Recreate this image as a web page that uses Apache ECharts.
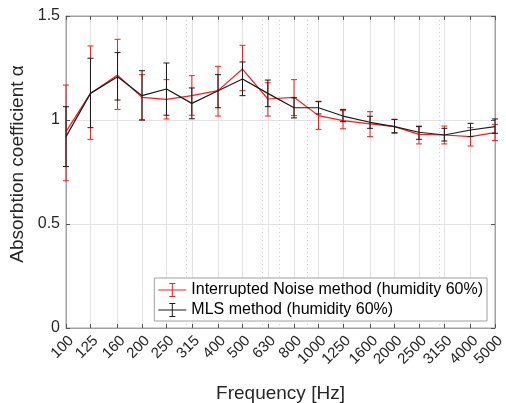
<!DOCTYPE html>
<html><head><meta charset="utf-8">
<script src="https://cdn.jsdelivr.net/npm/echarts@6/dist/echarts.min.js"></script>
<style>html,body{margin:0;padding:0;background:#fff}#c{width:506px;height:403px}</style>
</head><body><div id="c"></div>
<script>
const freqs = [100,125,160,200,250,315,400,500,630,800,1000,1250,1600,2000,2500,3150,4000,5000];
const minorFreqs = [300,600,700,900,3000];
const inValues = [0.944,1.128,1.216,1.109,1.099,1.117,1.141,1.245,1.101,1.109,1.021,0.997,0.981,0.968,0.931,0.928,0.920,0.939];
const inLower  = [0.708,0.907,1.051,1.000,1.005,1.023,1.019,1.141,1.019,1.021,0.955,0.958,0.920,0.936,0.885,0.885,0.875,0.901];
const inUpper  = [1.168,1.356,1.388,1.218,1.194,1.213,1.258,1.359,1.179,1.194,1.090,1.045,1.040,1.003,0.971,0.971,0.963,0.979];
const mlsValues = [0.920,1.128,1.208,1.117,1.149,1.080,1.141,1.197,1.128,1.059,1.059,1.019,0.989,0.968,0.941,0.928,0.952,0.968];
const mlsLower  = [0.776,0.963,1.096,1.000,1.023,1.006,1.059,1.117,1.064,1.010,1.029,0.992,0.960,0.939,0.907,0.899,0.920,0.936];
const mlsUpper  = [1.064,1.297,1.324,1.237,1.274,1.154,1.218,1.279,1.192,1.107,1.088,1.051,1.018,1.003,0.968,0.960,0.984,1.005];
const yTicks = [0,0.5,1,1.5];

const FONT = 'Liberation Sans, Arial, Helvetica, sans-serif';
const TXT = '#262626';
const BOX = '#a0a0a0';
const RED = '#ff1a1a';
const BLK = '#1a1a1a';

function errRender(color){
  return function(params, api){
    const x = api.value(0);
    const p0 = api.coord([x, api.value(1)]);
    const p1 = api.coord([x, api.value(2)]);
    const w = 3;
    const st = {stroke: color, lineWidth: 1};
    return {type:'group', children:[
      {type:'line', shape:{x1:p0[0],y1:p0[1],x2:p1[0],y2:p1[1]}, style:st},
      {type:'line', shape:{x1:p0[0]-w,y1:p0[1],x2:p0[0]+w,y2:p0[1]}, style:st},
      {type:'line', shape:{x1:p1[0]-w,y1:p1[1],x2:p1[0]+w,y2:p1[1]}, style:st}
    ]};
  };
}
const zip = (a,b)=>freqs.map((f,i)=>[f,a[i],b[i]]);
const pts = (a)=>freqs.map((f,i)=>[f,a[i]]);
const icon = 'path://M0,6.5h28v1h-28z M13.5,0h1v14h-1z M11,0h6v1h-6z M11,13h6v1h-6z';
const N1 = 'Interrupted Noise method (humidity 60%)';
const N2 = 'MLS method (humidity 60%)';

const chart = echarts.init(document.getElementById('c'), null, {renderer:'canvas'});
chart.setOption({
  animation:false,
  backgroundColor:'#fff',
  textStyle:{fontFamily:FONT},
  grid:{left:66,right:11,top:16,bottom:75,containLabel:false,outerBoundsMode:'none',show:true,borderColor:BOX,borderWidth:1,backgroundColor:'transparent'},
  legend:{
    right:19, bottom:82, orient:'vertical', itemGap:4, itemWidth:28, itemHeight:14,
    backgroundColor:'#fff', borderColor:BOX, borderWidth:1, padding:[4,4,3,4],
    textStyle:{fontFamily:FONT,fontSize:16,color:'#000'},
    data:[{name:N1,icon:icon,itemStyle:{color:RED}},{name:N2,icon:icon,itemStyle:{color:BLK}}]
  },
  xAxis:[{
    type:'log', logBase:10, min:100, max:5000, position:'bottom',
    name:'Frequency [Hz]', nameLocation:'middle', nameGap:56,
    nameTextStyle:{fontFamily:FONT,fontSize:19,color:TXT},
    axisLine:{show:true,lineStyle:{color:BOX,width:1}},
    axisTick:{show:true,inside:true,length:4,customValues:freqs,lineStyle:{color:'#555'}},
    axisLabel:{customValues:freqs,rotate:45,margin:5,verticalAlign:'top',fontFamily:FONT,fontSize:15,color:TXT,formatter:v=>String(Math.round(v))},
    splitLine:{show:true,lineStyle:{color:'#e3e3e3',width:1}},
    minorTick:{show:false}, minorSplitLine:{show:false}
  },{
    type:'log', logBase:10, min:100, max:5000, position:'bottom', gridIndex:0,
    axisLine:{show:false}, axisLabel:{show:false,customValues:minorFreqs},
    axisTick:{show:false,customValues:minorFreqs},
    splitLine:{show:true,lineStyle:{color:'#d0d0d0',width:1,type:[1,3]}}
  },{
    type:'log', logBase:10, min:100, max:5000, position:'top', gridIndex:0,
    axisLine:{show:true,lineStyle:{color:BOX}}, axisLabel:{show:false,customValues:freqs},
    axisTick:{show:true,inside:true,length:4,customValues:freqs,lineStyle:{color:'#555'}},
    splitLine:{show:false}
  }],
  yAxis:[{
    type:'value', min:0, max:1.5, interval:0.5,
    name:'Absorbtion coefficient α', nameLocation:'middle', nameGap:31, nameRotate:90,
    nameTextStyle:{fontFamily:FONT,fontSize:19,color:TXT,padding:[0,0,0,16]},
    axisLine:{show:true,lineStyle:{color:BOX,width:1}},
    axisTick:{show:true,inside:true,length:4,lineStyle:{color:'#555'}},
    axisLabel:{margin:6,fontFamily:FONT,fontSize:16,color:TXT,formatter:v=>String(yTicks.find(t=>Math.abs(t-v)<1e-9) ?? v)},
    splitLine:{show:true,lineStyle:{color:'#e3e3e3',width:1}}
  },{
    type:'value', min:0, max:1.5, interval:0.5, position:'right',
    axisLine:{show:true,lineStyle:{color:BOX}}, axisLabel:{show:false},
    axisTick:{show:true,inside:true,length:4,lineStyle:{color:'#555'}},
    splitLine:{show:false}
  }],
  series:[
    {name:N1,type:'line',data:pts(inValues),symbol:'none',lineStyle:{color:RED,width:1.2},itemStyle:{color:RED},z:3},
    {name:N1,type:'custom',data:zip(inLower,inUpper),renderItem:errRender(RED),itemStyle:{color:RED},encode:{x:0,y:[1,2]},z:3},
    {name:N2,type:'line',data:pts(mlsValues),symbol:'none',lineStyle:{color:BLK,width:1.2},itemStyle:{color:BLK},z:4},
    {name:N2,type:'custom',data:zip(mlsLower,mlsUpper),renderItem:errRender(BLK),itemStyle:{color:BLK},encode:{x:0,y:[1,2]},z:4}
  ]
});
</script></body></html>
